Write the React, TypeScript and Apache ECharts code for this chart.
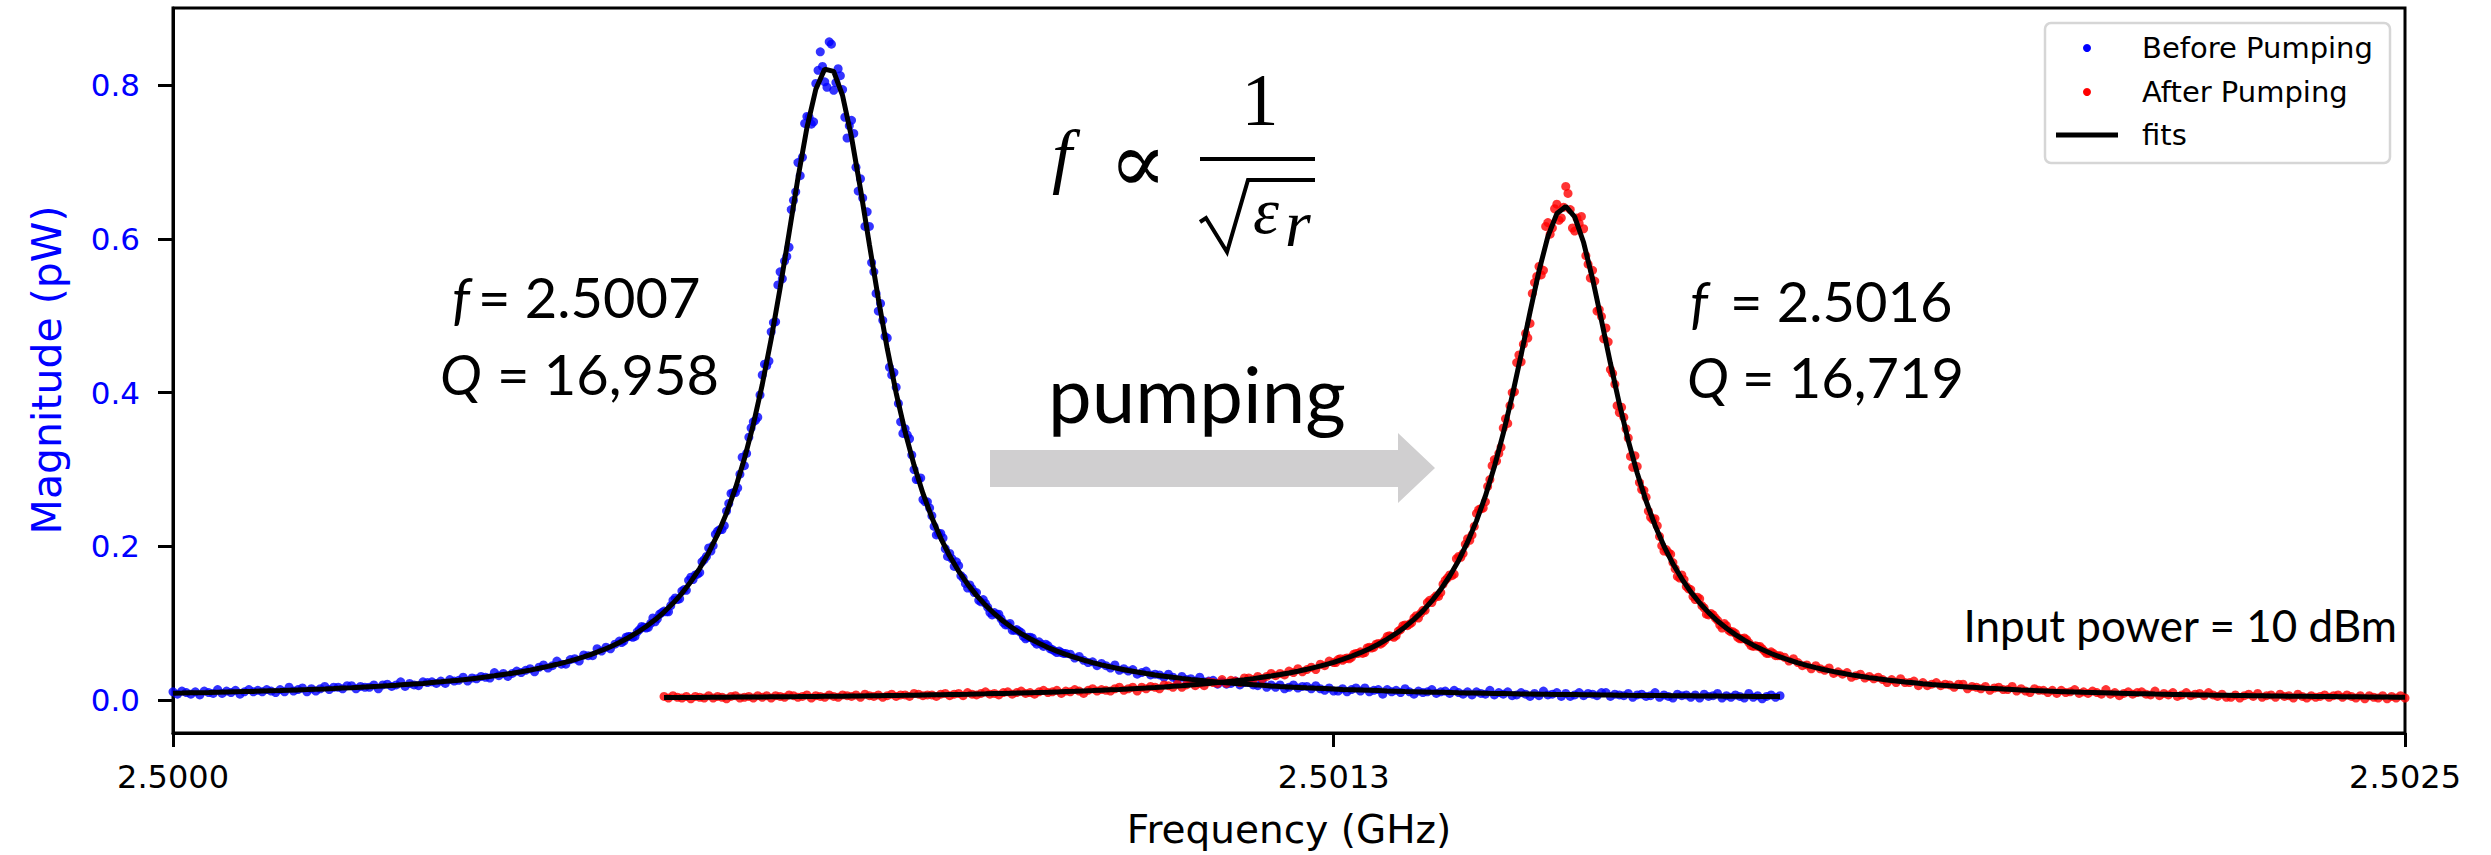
import React, { useEffect, useRef } from "react";
import * as echarts from "echarts";

// ---- axis ticks ----
const X_TICKS = [2.5, 2.5013, 2.5025];
const Y_TICKS = [0, 0.2, 0.4, 0.6, 0.8];

// ---- frequency sweeps (GHz) ----
const BEFORE_START = 2.5;
const AFTER_START = 2.50055;
const SCATTER_STEP = 0.000005;
const FIT_STEP = 0.00001;
// interleaved samples across the resonances (half-step offset)
const BEFORE_MID_START = 2.5005025;
const AFTER_MID_START = 2.5013025;

// ---- measured magnitude (pW), Before Pumping ----
const BEFORE = [
  0.011,0.008,0.012,0.010,0.008,0.011,0.007,0.012,0.010,0.009,0.014,0.009,0.012,0.010,0.013,0.008,0.011,0.014,0.011,0.013,
  0.011,0.014,0.012,0.010,0.014,0.011,0.017,0.012,0.014,0.016,0.011,0.015,0.012,0.015,0.018,0.014,0.017,0.017,0.015,0.019,
  0.019,0.015,0.018,0.017,0.017,0.020,0.015,0.020,0.021,0.018,0.020,0.024,0.018,0.022,0.020,0.019,0.024,0.023,0.024,0.022,
  0.025,0.022,0.027,0.025,0.026,0.030,0.025,0.029,0.028,0.031,0.030,0.029,0.036,0.032,0.035,0.031,0.035,0.038,0.036,0.039,
  0.041,0.037,0.043,0.046,0.042,0.045,0.051,0.047,0.047,0.053,0.054,0.051,0.059,0.058,0.058,0.067,0.064,0.069,0.067,0.073,
  0.077,0.077,0.083,0.082,0.089,0.096,0.094,0.100,0.102,0.112,0.116,0.115,0.130,0.131,0.142,0.143,0.160,0.163,0.166,0.183,
  0.198,0.201,0.220,0.222,0.246,0.269,0.270,0.294,0.305,0.342,0.362,0.368,0.423,0.435,0.479,0.492,0.557,0.571,0.589,0.650,
  0.699,0.706,0.759,0.749,0.802,0.843,0.804,0.856,0.793,0.821,0.794,0.731,0.754,0.693,0.678,0.616,0.616,0.557,0.506,0.494,
  0.471,0.423,0.407,0.362,0.353,0.340,0.300,0.287,0.261,0.258,0.240,0.215,0.217,0.197,0.191,0.174,0.175,0.159,0.146,0.145,
  0.140,0.128,0.126,0.114,0.114,0.112,0.101,0.098,0.091,0.092,0.088,0.080,0.082,0.076,0.076,0.070,0.071,0.066,0.062,0.062,
  0.061,
  0.060,0.055,0.057,0.052,0.049,0.050,0.045,0.048,0.045,0.042,0.046,0.039,0.041,0.038,0.040,0.034,0.036,0.038,0.033,0.034,
  0.033,0.030,0.034,0.030,0.026,0.031,0.027,0.028,0.025,0.030,0.024,0.025,0.026,0.021,0.024,0.021,0.022,0.025,0.020,0.023,
  0.023,0.020,0.019,0.024,0.017,0.020,0.017,0.020,0.015,0.017,0.020,0.016,0.018,0.018,0.015,0.019,0.015,0.013,0.016,0.012,
  0.012,0.015,0.011,0.014,0.016,0.012,0.016,0.011,0.013,0.014,0.008,0.014,0.011,0.013,0.010,0.015,0.011,0.008,0.012,0.010,
  0.011,0.014,0.009,0.011,0.012,0.009,0.013,0.010,0.008,0.011,0.007,0.011,0.009,0.008,0.013,0.007,0.010,0.008,0.011,0.006,
  0.007,0.010,0.008,0.005,0.009,0.006,0.012,0.007,0.008,0.010,0.005,0.009,0.005,0.007,0.010,0.006,0.009,0.008,0.006,0.010,
  0.010,0.005,0.008,0.007,0.006,0.009,0.004,0.007,0.008,0.005,0.006,0.010,0.004,0.007,0.005,0.003,0.008,0.006,0.007,0.004,
  0.007,0.003,0.008,0.005,0.006,0.009,0.003,0.006,0.004,0.007,0.005,0.003,0.009,0.004,0.006,0.002,0.005,0.007,0.004,0.006,
];
const BEFORE_MID = [
  0.075,0.082,0.083,0.083,0.092,0.095,0.095,0.107,0.106,0.114,0.115,0.123,0.133,0.132,0.144,0.156,0.157,0.164,0.180,0.187,
  0.194,0.216,0.222,0.227,0.256,0.270,0.276,0.316,0.321,0.354,0.364,0.397,0.437,0.441,0.491,0.540,0.548,0.577,0.638,0.661,
  0.682,0.750,0.758,0.752,0.819,0.824,0.797,0.853,0.803,0.812,0.758,0.747,0.737,0.662,0.653,0.635,0.569,0.529,0.516,0.473,
  0.433,0.426,0.386,0.347,0.345,0.319,0.287,0.289,0.258,0.250,0.226,0.217,0.211,0.187,0.184,0.180,0.162,0.152,0.150,0.140,
  0.130,0.131,0.121,0.111,0.112,0.106,0.098,0.100,0.091,0.090,0.083,0.082,0.081,0.073,0.073,0.073,0.067,0.064,0.064,0.061,
];

// ---- measured magnitude (pW), After Pumping ----
const AFTER = [
  0.005,0.003,0.006,0.004,0.003,0.005,0.002,0.005,0.004,0.003,0.006,0.003,0.005,0.004,0.002,0.005,0.006,0.003,0.004,0.005,
  0.003,0.006,0.004,0.006,0.003,0.006,0.005,0.004,0.007,0.006,0.004,0.005,0.007,0.003,0.006,0.005,0.004,0.007,0.005,0.004,
  0.007,0.006,0.005,0.007,0.004,0.008,0.006,0.005,0.007,0.004,0.006,0.008,0.005,0.007,0.007,0.005,0.009,0.008,0.006,0.007,
  0.007,0.005,0.008,0.009,0.006,0.008,0.009,0.006,0.010,0.008,0.007,0.009,0.011,0.008,0.009,0.007,0.010,0.011,0.008,0.010,
  0.012,0.009,0.010,0.008,0.011,0.013,0.010,0.011,0.013,0.009,0.012,0.011,0.014,0.012,0.009,0.013,0.015,0.012,0.014,0.013,
  0.012,0.015,0.017,0.013,0.015,0.017,0.012,0.017,0.015,0.018,0.017,0.015,0.020,0.019,0.017,0.021,0.017,0.020,0.023,0.019,
  0.022,0.019,0.024,0.023,0.022,0.027,0.022,0.026,0.025,0.023,0.029,0.029,0.027,0.031,0.028,0.031,0.035,0.032,0.035,0.033,
  0.038,0.036,0.041,0.037,0.040,0.043,0.040,0.047,0.045,0.051,0.049,
  0.053,0.052,0.055,0.056,0.061,0.063,0.062,0.069,0.069,0.074,0.075,0.083,0.083,0.084,0.092,0.098,0.099,0.107,0.107,0.117,
  0.127,0.127,0.136,0.140,0.156,0.163,0.164,0.187,0.191,0.210,0.215,0.243,0.249,0.258,0.287,0.313,0.321,0.354,0.360,0.400,
  0.439,0.440,0.477,0.490,0.543,0.564,0.559,0.621,0.614,0.645,0.627,0.668,0.638,0.610,0.620,0.613,0.567,0.559,0.506,0.499,
  0.484,0.430,0.411,0.374,0.368,0.341,0.303,0.304,0.274,0.264,0.238,0.236,0.213,0.194,0.192,0.179,0.161,0.163,0.148,0.144,
  0.131,0.132,0.120,0.111,0.111,0.104,0.094,0.097,0.089,0.087,0.080,0.081,0.075,0.070,0.070,0.067,0.061,0.063,0.058,0.058,
  0.056,0.051,0.054,0.049,0.045,0.046,0.041,0.045,0.041,0.039,0.042,0.035,0.037,0.034,0.036,0.030,0.032,0.034,0.029,0.031,
  0.028,0.030,0.027,0.023,0.027,0.023,0.028,0.023,0.023,0.025,0.019,0.023,0.019,0.021,0.023,0.019,0.021,0.020,0.017,0.021,
  0.021,0.015,0.018,0.017,0.015,0.018,0.013,0.016,0.017,0.014,0.014,0.018,0.012,0.015,0.012,0.010,0.015,0.013,0.013,0.010,
  0.013,0.009,0.013,0.010,0.011,0.014,0.009,0.011,0.009,0.012,0.010,0.008,0.014,0.008,0.010,0.006,0.009,0.011,0.008,0.010,
  0.011,0.008,0.007,0.012,0.006,0.009,0.007,0.010,0.005,0.007,0.010,0.006,0.008,0.009,0.006,0.010,0.007,0.005,0.008,0.004,
  0.004,0.007,0.003,0.006,0.008,0.005,0.009,0.004,0.006,0.007,0.004,0.008,0.005,0.006,0.003,0.008,0.005,0.003,0.006,0.004,
  0.005,0.007,0.004,0.006,0.007,0.004,0.007,0.005,0.003,0.006,0.002,0.006,0.004,0.003,0.006,0.002,0.005,0.003,0.006,0.003,
];
const AFTER_MID = [
  0.049,0.054,0.054,0.054,0.060,0.061,0.061,0.068,0.068,0.073,0.073,0.078,0.084,0.082,0.090,0.097,0.097,0.101,0.110,0.113,
  0.117,0.130,0.133,0.135,0.151,0.159,0.162,0.184,0.186,0.203,0.208,0.226,0.248,0.250,0.278,0.305,0.311,0.329,0.366,0.383,
  0.401,0.449,0.463,0.471,0.529,0.551,0.553,0.616,0.606,0.639,0.624,0.641,0.659,0.614,0.627,0.629,0.578,0.549,0.545,0.508,
  0.470,0.466,0.425,0.383,0.381,0.353,0.317,0.318,0.283,0.273,0.246,0.235,0.227,0.201,0.196,0.190,0.171,0.159,0.157,0.145,
  0.135,0.134,0.123,0.112,0.113,0.107,0.098,0.100,0.091,0.089,0.082,0.080,0.079,0.071,0.071,0.070,0.064,0.061,0.061,0.058,
];

// ---- fitted curves (pW) ----
const BEFORE_FIT = [
  0.0092,0.0094,0.0097,0.0099,0.0101,0.0104,0.0107,0.0110,0.0113,0.0116,0.0120,0.0124,0.0127,0.0131,0.0135,0.0139,0.0144,0.0148,0.0153,0.0159,
  0.0164,0.0170,0.0176,0.0182,0.0189,0.0196,0.0204,0.0212,0.0220,0.0230,0.0240,0.0251,0.0262,0.0274,0.0287,0.0302,0.0318,0.0335,0.0352,0.0371,
  0.0392,0.0416,0.0441,0.0468,0.0497,0.0529,0.0564,0.0604,0.0648,0.0697,0.0752,0.0813,0.0882,0.0959,0.1047,0.1147,0.1261,0.1391,0.1542,0.1716,
  0.1919,0.2156,0.2433,0.2758,0.3140,0.3585,0.4104,0.4696,0.5359,0.6070,0.6788,0.7442,0.7944,0.8206,0.8176,0.7860,0.7320,0.6647,0.5926,0.5221,
  0.4572,0.3994,0.3491,0.3058,0.2689,0.2374,0.2106,0.1876,0.1679,0.1510,0.1364,0.1237,0.1126,0.1028,0.0943,0.0867,0.0800,0.0741,0.0687,0.0639,
  0.0596,0.0557,0.0522,0.0490,0.0461,0.0434,0.0410,0.0387,0.0367,0.0348,0.0330,0.0314,0.0299,0.0285,0.0272,0.0260,0.0249,0.0238,0.0229,0.0219,
  0.0211,0.0203,0.0195,0.0187,0.0180,0.0174,0.0168,0.0162,0.0157,0.0152,0.0147,0.0142,0.0138,0.0134,0.0130,0.0126,0.0122,0.0119,0.0115,0.0112,
  0.0109,0.0106,0.0104,0.0101,0.0098,0.0096,0.0094,0.0092,0.0089,0.0087,0.0085,0.0083,0.0082,0.0080,0.0078,0.0077,0.0075,0.0074,0.0072,0.0071,
  0.0069,0.0068,0.0067,0.0065,0.0064,0.0063,0.0062,0.0061,0.0060,0.0059,0.0058,0.0057,0.0056,0.0055,0.0054,0.0053,0.0052,0.0051,0.0051,0.0050,
  0.0049,
];
const AFTER_FIT = [
  0.0035,0.0036,0.0036,0.0037,0.0038,0.0039,0.0040,0.0041,0.0042,0.0043,0.0043,0.0044,0.0045,0.0046,0.0047,0.0048,0.0050,0.0051,0.0052,0.0053,
  0.0054,0.0056,0.0057,0.0059,0.0060,0.0062,0.0064,0.0065,0.0067,0.0069,0.0071,0.0073,0.0075,0.0077,0.0079,0.0082,0.0084,0.0087,0.0090,0.0093,
  0.0095,0.0099,0.0102,0.0105,0.0109,0.0113,0.0117,0.0122,0.0126,0.0131,0.0136,0.0141,0.0147,0.0153,0.0159,0.0166,0.0174,0.0182,0.0190,0.0199,
  0.0208,0.0219,0.0230,0.0242,0.0254,0.0267,0.0282,0.0299,0.0316,0.0335,0.0355,0.0378,0.0403,0.0431,0.0461,0.0494,0.0531,0.0573,0.0619,0.0671,
  0.0729,0.0795,0.0869,0.0954,0.1052,0.1163,0.1292,0.1442,0.1616,0.1818,0.2056,0.2333,0.2657,0.3035,0.3469,0.3958,0.4492,0.5048,0.5581,0.6031,
  0.6328,0.6420,0.6284,0.5951,0.5479,0.4937,0.4383,0.3856,0.3377,0.2955,0.2589,0.2274,0.2005,0.1775,0.1579,0.1410,0.1265,0.1140,0.1031,0.0937,
  0.0854,0.0781,0.0717,0.0660,0.0609,0.0564,0.0524,0.0487,0.0454,0.0425,0.0398,0.0373,0.0351,0.0331,0.0312,0.0295,0.0279,0.0264,0.0251,0.0238,
  0.0227,0.0216,0.0206,0.0197,0.0188,0.0180,0.0172,0.0165,0.0158,0.0152,0.0146,0.0141,0.0135,0.0130,0.0125,0.0120,0.0116,0.0112,0.0108,0.0104,
  0.0101,0.0098,0.0095,0.0092,0.0089,0.0086,0.0084,0.0081,0.0079,0.0077,0.0074,0.0072,0.0070,0.0068,0.0067,0.0065,0.0063,0.0062,0.0060,0.0059,
  0.0057,0.0056,0.0054,0.0053,0.0052,0.0050,0.0049,0.0048,0.0047,0.0046,0.0045,0.0044,0.0043,0.0042,0.0041,0.0040,
];

const LEGEND_LABELS = ["Before Pumping", "After Pumping", "fits"];
const X_TITLE = "Frequency (GHz)";
const Y_TITLE = "Magnitude (pW)";

const toPairs = (start: number, step: number, vals: number[]) =>
  vals.map((v, i) => [start + i * step, v]);

const txt = (
  text: string,
  x: number,
  y: number,
  size: number,
  family: string,
  opts: { align?: string; italic?: boolean; fill?: string; rotation?: number } = {}
) => ({
  type: "text",
  x,
  y,
  rotation: opts.rotation || 0,
  silent: true,
  z: 100,
  style: {
    text,
    fontSize: size,
    fontFamily: family,
    fontStyle: opts.italic ? "italic" : "normal",
    fill: opts.fill || "#000",
    textAlign: opts.align || "left",
    textVerticalAlign: "middle",
  },
});

export default function App() {
  const ref = useRef<HTMLDivElement>(null);
  useEffect(() => {
    if (!ref.current) return;
    const chart = echarts.init(ref.current, undefined, { renderer: "svg" });
    const ANNO = "Lato";
    const MATH = "Liberation Serif";
    const option: any = {
      animation: false,
      backgroundColor: "#ffffff",
      grid: {
        left: 173,
        top: 8,
        width: 2232,
        height: 725,
        show: true,
        borderColor: "#000",
        borderWidth: 3,
        containLabel: false,
        outerBoundsMode: "none",
      },
      xAxis: {
        type: "value",
        min: 2.5,
        max: 2.5025,
        axisLine: { show: true, onZero: false, lineStyle: { color: "#000", width: 3 } },
        axisTick: { show: true, customValues: X_TICKS, length: 14, lineStyle: { color: "#000", width: 3 } },
        axisLabel: {
          customValues: X_TICKS,
          formatter: (v: number) => v.toFixed(4),
          color: "#000",
          fontFamily: "DejaVu Sans",
          fontSize: 32,
          margin: 28,
        },
        splitLine: { show: false },
      },
      yAxis: {
        type: "value",
        min: -0.0425,
        max: 0.9,
        axisLine: { show: true, onZero: false, lineStyle: { color: "#000", width: 3 } },
        axisTick: { show: true, customValues: Y_TICKS, length: 15, lineStyle: { color: "#000", width: 3 } },
        axisLabel: {
          customValues: Y_TICKS,
          formatter: (v: number) => v.toFixed(1),
          color: "#0000ff",
          fontFamily: "DejaVu Sans",
          fontSize: 31,
          margin: 33,
        },
        splitLine: { show: false },
      },
      series: [
        {
          name: "Before Pumping",
          type: "scatter",
          data: [
            ...toPairs(BEFORE_START, SCATTER_STEP, BEFORE),
            ...toPairs(BEFORE_MID_START, SCATTER_STEP, BEFORE_MID),
          ],
          symbol: "circle",
          symbolSize: 9,
          itemStyle: { color: "#0000ff" },
          silent: true,
          z: 2,
        },
        {
          name: "After Pumping",
          type: "scatter",
          data: [
            ...toPairs(AFTER_START, SCATTER_STEP, AFTER),
            ...toPairs(AFTER_MID_START, SCATTER_STEP, AFTER_MID),
          ],
          symbol: "circle",
          symbolSize: 9,
          itemStyle: { color: "#ff0000" },
          silent: true,
          z: 2,
        },
        {
          name: "fits",
          type: "line",
          data: toPairs(BEFORE_START, FIT_STEP, BEFORE_FIT),
          showSymbol: false,
          symbol: "none",
          lineStyle: { color: "#000", width: 5 },
          silent: true,
          z: 3,
        },
        {
          name: "fits ",
          type: "line",
          data: toPairs(AFTER_START, FIT_STEP, AFTER_FIT),
          showSymbol: false,
          symbol: "none",
          lineStyle: { color: "#000", width: 5 },
          silent: true,
          z: 3,
        },
      ],
      graphic: [
        // axis titles
        txt(X_TITLE, 1289, 829, 39, "DejaVu Sans", { align: "center" }),
        txt(Y_TITLE, 47, 370, 41, "DejaVu Sans", { align: "center", fill: "#0000ff", rotation: Math.PI / 2 }),
        // left annotation
        txt("f", 452, 296, 56, ANNO, { italic: true }),
        txt("= 2.5007", 478, 296, 56, ANNO),
        txt("Q", 440, 373, 56, ANNO, { italic: true }),
        txt("= 16,958", 497, 373, 56, ANNO),
        // right annotation
        txt("f", 1690, 300, 56, ANNO, { italic: true }),
        txt("= 2.5016", 1730, 300, 56, ANNO),
        txt("Q", 1687, 376, 56, ANNO, { italic: true }),
        txt("= 16,719", 1742, 376, 56, ANNO),
        // pumping + arrow
        txt("pumping", 1048, 393, 78, ANNO),
        {
          type: "polygon",
          silent: true,
          z: 50,
          shape: {
            points: [[990, 450], [1398, 450], [1398, 433], [1435, 468], [1398, 503], [1398, 487], [990, 487]],
          },
          style: { fill: "#d0cfd0" },
        },
        // input power
        txt("Input power = 10 dBm", 2397, 625, 44, ANNO, { align: "right" }),
        // formula f ∝ 1/sqrt(eps_r)
        txt("f", 1052, 156, 72, MATH, { italic: true }),
        txt("\u221D", 1138, 162, 86, "DejaVu Serif", { align: "center" }),
        txt("1", 1260, 100, 74, MATH, { align: "center" }),
        { type: "rect", silent: true, z: 100, shape: { x: 1200, y: 157, width: 115, height: 4 }, style: { fill: "#000" } },
        {
          type: "polyline",
          silent: true,
          z: 100,
          shape: { points: [[1200, 222], [1206, 218], [1227, 252], [1248, 180], [1315, 180]] },
          style: { stroke: "#000", lineWidth: 4, fill: "none", lineJoin: "miter" },
        },
        txt("\u03B5", 1253, 210, 66, MATH, { italic: true }),
        txt("r", 1285, 223, 66, MATH, { italic: true }),
        // legend
        {
          type: "rect",
          silent: true,
          z: 90,
          shape: { x: 2045, y: 23, width: 345, height: 140, r: 6 },
          style: { fill: "#ffffff", stroke: "#d6d6d6", lineWidth: 2.5 },
        },
        { type: "circle", silent: true, z: 100, shape: { cx: 2087, cy: 48, r: 4 }, style: { fill: "#0000ff" } },
        { type: "circle", silent: true, z: 100, shape: { cx: 2087, cy: 92, r: 4 }, style: { fill: "#ff0000" } },
        { type: "line", silent: true, z: 100, shape: { x1: 2056, y1: 135, x2: 2118, y2: 135 }, style: { stroke: "#000", lineWidth: 5 } },
        txt(LEGEND_LABELS[0], 2142, 48, 29, "DejaVu Sans"),
        txt(LEGEND_LABELS[1], 2142, 92, 29, "DejaVu Sans"),
        txt(LEGEND_LABELS[2], 2142, 135, 29, "DejaVu Sans"),
      ],
    };
    chart.setOption(option);
    return () => chart.dispose();
  }, []);
  return (
    <div
      ref={ref}
      style={{ position: "fixed", left: 0, top: 0, width: 2491, height: 855, background: "#fff" }}
    />
  );
}
